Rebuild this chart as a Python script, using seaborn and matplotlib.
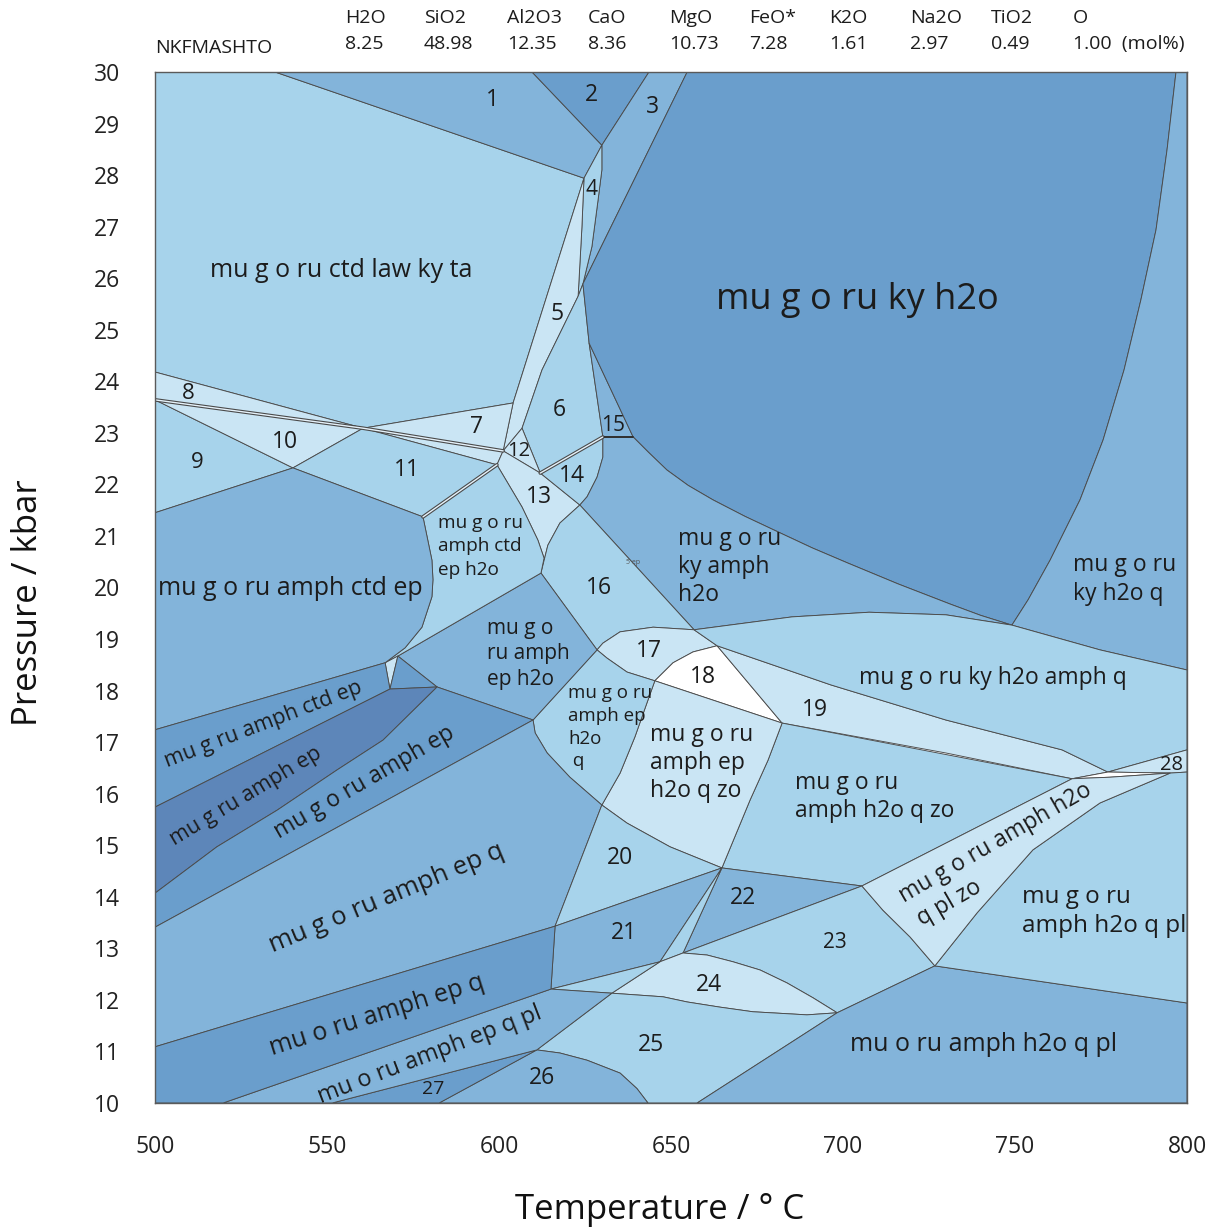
import matplotlib
matplotlib.use("Agg")
import matplotlib.pyplot as plt
import seaborn as sns
import numpy as np

# ---------------- bulk composition (mol%) ----------------
system_name = "NKFMASHTO"
oxides = ["H2O", "SiO2", "Al2O3", "CaO", "MgO", "FeO*", "K2O", "Na2O", "TiO2", "O"]
amounts = [8.25, 48.98, 12.35, 8.36, 10.73, 7.28, 1.61, 2.97, 0.49, 1.00]
oxide_T = [555.2, 578.2, 602.3, 625.9, 649.4, 672.7, 695.9, 719.5, 743.0, 766.9]

# ---------------- axes ----------------
t_lim = (500, 800)
p_lim = (10, 30)
t_major = [500, 550, 600, 650, 700, 750, 800]
p_major = list(range(10, 31))

# ---------------- nodes (T degC, P kbar) ----------------
t1, t2, t3, t4, t5 = (534.9, 30.0), (609.6, 30.0), (643.6, 30.0), (654.7, 30.0), (796.8, 30.0)
A, B, C, D = (624.7, 27.94), (629.9, 28.58), (624.4, 25.89), (623.0, 25.65)
b1, b2, b3, a1 = (629.9, 28.10), (628.8, 27.52), (627.0, 26.61), (624.1, 26.99)
L, k1, K, H, H2 = (604.1, 23.58), (612.5, 24.22), (606.7, 23.09), (601.2, 22.65), (599.4, 22.38)
J, I, M, E = (626.2, 24.74), (630.2, 22.92), (639.0, 22.92), (612.0, 22.22)
F, i1, i2, i3 = (623.5, 21.60), (630.2, 22.53), (628.5, 22.14), (625.6, 21.76)
S, n9, n11 = (560.5, 23.09), (540.1, 22.32), (577.9, 21.37)
G, Q, P1, W, U, V = (612.2, 20.28), (628.5, 18.79), (656.7, 19.18), (663.4, 18.87), (645.3, 18.19), (682.3, 17.37)
Y1, Y2, Y3, Y4 = (766.6, 16.29), (777.0, 16.42), (795.1, 16.40), (777.6, 16.32)
Z1, Z2, Z3, Z4 = (705.5, 14.21), (629.9, 15.78), (726.7, 12.66), (698.3, 11.75)
N22, N21a, N21b, N24a, N25a = (664.8, 14.56), (616.3, 13.43), (646.8, 12.74), (653.5, 12.91), (632.8, 12.13)
c1, c2, c3, c4, c5 = (566.9, 18.54), (570.6, 18.67), (568.3, 18.03), (582.0, 18.07), (609.9, 17.43)
r1, r2 = (615.1, 12.21), (611.0, 11.03)
K1 = (749.1, 19.27)
L0, L1, L2, L3, L4 = (500.0, 30.0), (500.0, 24.18), (500.0, 23.64), (500.0, 21.45), (500.0, 17.24)
L5, L6, L7, L8, L9 = (500.0, 15.74), (500.0, 14.07), (500.0, 13.41), (500.0, 11.09), (500.0, 10.0)
R0, R1, R2, R3, R4, R5 = (800.0, 30.0), (800.0, 18.40), (800.0, 16.85), (800.0, 16.42), (800.0, 11.94), (800.0, 10.0)
B1, B2, B3, B4, B5 = (519.8, 10.0), (551.5, 10.0), (582.6, 10.0), (643.3, 10.0), (657.6, 10.0)

# ---------------- curved boundaries ----------------
ctd_edge = [(580.5, 20.53), (580.8, 20.15), (580.5, 19.82), (577.6, 19.23), (572.7, 18.83)]
left13 = [(606.7, 21.56), (611.3, 20.92), (613.1, 20.57)]
low13 = [(617.7, 21.25), (614.2, 20.82)]
big_low = [(643.5, 22.62), (648.8, 22.28), (655.0, 21.98), (662.2, 21.70), (671.5, 21.38),
           (681.7, 21.06), (691.0, 20.77), (701.2, 20.48), (716.0, 20.07), (731.1, 19.68), (740.0, 19.46)]
big_right = [(753.8, 19.76), (760.2, 20.53), (768.9, 21.70), (775.6, 22.86), (781.7, 24.22),
             (786.6, 25.58), (791.0, 26.94), (794.2, 28.49)]
ky_top = [(685.2, 19.43), (707.6, 19.52), (729.9, 19.47)]
top17 = [(630.2, 18.92), (635.2, 19.14), (644.8, 19.23)]
top18 = [(656.4, 18.75), (650.6, 18.54)]
low17 = [(637.2, 18.36), (631.4, 18.63)]
top19 = [(696.5, 18.11), (729.9, 17.43), (763.7, 16.85)]
low19 = [(729.9, 16.79)]
zo_right = [(678.2, 16.65), (673.0, 15.88)]
zo_left = [(643.0, 17.76), (639.5, 17.10), (635.2, 16.40)]
zo_low = [(637.2, 15.43), (649.7, 14.97)]
epq_arc = [(610.5, 17.18), (614.0, 16.79), (620.6, 16.32)]
plzo_left = [(711.6, 13.74), (719.5, 13.22)]
plzo_right = [(739.0, 13.69), (755.2, 14.91), (774.7, 15.82)]
top24 = [(660.5, 12.87), (668.0, 12.74), (675.9, 12.58), (683.7, 12.33), (691.3, 12.04)]
low24 = [(689.5, 11.71), (673.8, 11.77), (664.2, 11.86), (654.7, 11.96), (647.7, 12.06)]
arc26 = [(617.7, 10.97), (625.6, 10.83), (635.2, 10.58), (640.1, 10.28)]
darkest_low = [(566.3, 17.04), (552.9, 16.46), (535.5, 15.68), (518.0, 14.97)]
kyq_low = [(774.7, 18.79)]

def rev(seq):
    return list(reversed(seq))

# ---------------- colours ----------------
WH = "#ffffff"
VL = "#cae5f4"
LT = "#a7d3eb"
MD = "#83b4da"
DK = "#6a9ecc"
DD = "#5d86b9"

fields = [
    ([L0, t1, A, L, S, L1], LT),
    ([t1, t2, B, A], MD),
    ([t2, t3, B], DK),
    ([t3, t4, C, b3, b2, b1, B], MD),
    ([A, B, b1, b2, b3, C, D, a1], LT),
    ([A, a1, D, k1, K, H, L], VL),
    ([D, C, J, I, E, K, k1], LT),
    ([S, L, H, H2], VL),
    ([L1, S, L2], VL),
    ([L2, n9, L3], LT),
    ([L2, S, n9], VL),
    ([S, H2, n11, n9], LT),
    ([K, E, H], VL),
    ([H, E, F] + low13 + [G] + rev(left13) + [H2], VL),
    ([E, I, i1, i2, i3, F], LT),
    ([J, I, M], MD),
    ([t4, t5] + rev(big_right) + [K1] + rev(big_low) + [M, J, C], DK),
    ([t5, R0, R1] + kyq_low + [K1] + big_right, MD),
    ([F, i3, i2, i1, I, M] + big_low + [K1] + rev(ky_top) + [P1], MD),
    ([F, P1] + rev(top17) + [Q, G] + rev(low13), LT),
    ([Q] + top17 + [P1, W] + top18 + [U] + low17, VL),
    ([W, V, U] + rev(top18), WH),
    ([W] + top19 + [Y2, Y1] + low19 + [V], VL),
    ([P1] + ky_top + [K1] + kyq_low + [R1, R2, Y2] + rev(top19) + [W], LT),
    ([Y2, R2, R3, Y3], VL),
    ([Y1, Y2, Y3, Y4], WH),
    ([V, Y1, Z1, N22] + rev(zo_right), LT),
    ([U, V] + zo_right + [N22] + rev(zo_low) + [Z2] + rev(zo_left), VL),
    ([c5, Q] + rev(low17) + [U] + zo_left + [Z2] + rev(epq_arc), LT),
    ([c2, G, Q, c5, c4], MD),
    ([H2] + left13 + [G, c2, c1] + rev(ctd_edge) + [n11], LT),
    ([c1, c2, c3], VL),
    ([c3, c2, c4], DK),
    ([L3, n9, n11] + ctd_edge + [c1, L4], MD),
    ([L4, c1, c3, L5], DK),
    ([L5, c3, c4] + darkest_low + [L6], DD),
    ([L6] + rev(darkest_low) + [c4, c5, L7], DK),
    ([L7, c5] + epq_arc + [Z2, N21a, L8], MD),
    ([Z2] + zo_low + [N22, N21a], LT),
    ([N21a, N22, N21b, r1], MD),
    ([N22, Z1, N24a], MD),
    ([N22, N24a, N21b], LT),
    ([Z1] + plzo_left + [Z3, Z4] + rev(top24) + [N24a], LT),
    ([N21b, N24a] + top24 + [Z4] + low24 + [N25a], VL),
    ([r1, N21b, N25a], LT),
    ([N25a] + rev(low24) + [Z4, B5, B4] + rev(arc26) + [r2], LT),
    ([r2] + arc26 + [B4, B3], MD),
    ([B2, r2, B3], DK),
    ([B1, r1, N25a, r2, B2], MD),
    ([L8, N21a, r1, B1, L9], DK),
    ([B5, Z4, Z3, R4, R5], MD),
    ([Z3] + plzo_right + [Y3, R3, R4], LT),
    ([Z1, Y1, Y4, Y3] + rev(plzo_right) + [Z3] + rev(plzo_left), VL),
]

# boundaries drawn as paired (double) lines
double_lines = [[L2, S, H], [n11, H2], [E, I]]

# ---------------- labels ----------------
num_text = [str(i) for i in range(1, 29)]
num_T = [598.0, 627.0, 644.5, 627.0, 616.9, 617.4, 593.6, 509.6, 512.2, 537.8,
         573.3, 605.8, 611.6, 621.2, 633.1, 629.1, 643.6, 659.3, 691.9, 635.2,
         636.3, 670.9, 697.7, 661.0, 644.2, 612.5, 580.8, 795.6]
num_P = [29.46, 29.55, 29.32, 27.73, 25.31, 23.44, 23.11, 23.77, 22.42, 22.82,
         22.28, 22.65, 21.76, 22.16, 23.15, 19.99, 18.77, 18.26, 17.62, 14.75,
         13.30, 13.98, 13.12, 12.29, 11.13, 10.49, 10.27, 16.56]
num_size = [16.5, 16.5, 16.5, 15, 16.5, 16.5, 16.5, 16, 16, 16.5,
            16.5, 14.5, 16.5, 16.5, 15, 16.5, 16.5, 16.5, 16.5, 16.5,
            16.5, 16.5, 15, 16.5, 16.5, 16.5, 14, 14.5]

centre_text = ["mu g o ru ctd law ky ta", "mu g o ru ky h2o", "mu g o ru amph ctd ep",
               "mu g o ru ky h2o amph q", "mu o ru amph h2o q pl",
               "mu g ru amph ctd ep", "mu g ru amph ep", "mu g o ru amph ep",
               "mu g o ru amph ep q", "mu o ru amph ep q", "mu o ru amph ep q pl",
               "mu g o ru amph h2o", "q pl zo"]
centre_T = [554.1, 704.1, 539.2, 743.6, 741.0, 531.4, 526.5, 561.0, 567.2, 564.5, 579.9, 744.2, 730.8]
centre_P = [26.14, 25.58, 19.99, 18.24, 11.14, 17.35, 15.94, 16.21, 13.98, 11.69, 10.93, 15.04, 13.88]
centre_size = [18, 26, 18, 16.5, 18, 15.5, 15.5, 16.5, 18.5, 18, 17, 16.5, 16.5]
centre_rot = [0, 0, 0, 0, 0, 21, 31, 30, 22.5, 17.5, 21, 30, 30]

block_text = ["mu g o ru\namph ctd\nep h2o", "mu g o ru\nky amph\nh2o", "mu g o ru\nky h2o q",
              "mu g o\nru amph\nep h2o", "mu g o ru\namph ep\nh2o\n q", "mu g o ru\namph ep\nh2o q zo",
              "mu g o ru\namph h2o q zo", "mu g o ru\namph h2o q pl"]
block_T = [582.3, 652.0, 766.9, 596.5, 620.1, 643.9, 686.0, 752.0]
block_P = [20.80, 20.40, 20.15, 18.71, 17.29, 16.60, 15.94, 13.71]
block_size = [13.7, 16.5, 16.5, 15, 13.5, 16.5, 16.5, 17.5]
block_spacing = [1.4, 1.22, 1.26, 1.3, 1.33, 1.22, 1.22, 1.3]

# ---------------- drawing ----------------
sns.set_theme(style="white")
plt.rcParams["font.family"] = ["Open Sans", "DejaVu Sans"]

fig = plt.figure(figsize=(12.21, 12.31), dpi=100)
ax = fig.add_axes([155 / 1221, 1 - 1103 / 1231, 1032 / 1221, 1031 / 1231])

edge = "#4a4a4a"
for poly, colour in fields:
    xs, ys = zip(*poly)
    ax.fill(xs, ys, facecolor=colour, edgecolor=edge, linewidth=0.65, joinstyle="round", zorder=1)

for line in double_lines:
    xs, ys = zip(*line)
    sns.lineplot(x=list(xs), y=list(ys), sort=False, estimator=None, ax=ax, color=edge, linewidth=2.6, zorder=2)
    sns.lineplot(x=list(xs), y=list(ys), sort=False, estimator=None, ax=ax, color="#e6f2fa", linewidth=1.0, zorder=2.1)
ax.plot([I[0], M[0]], [I[1], M[1]], color="#303030", linewidth=1.4, zorder=2)

ink = "#1c1c1c"
for s, x, y, fs in zip(num_text, num_T, num_P, num_size):
    ax.text(x, y, s, fontsize=fs, ha="center", va="center", color=ink, zorder=3)
for s, x, y, fs, rot in zip(centre_text, centre_T, centre_P, centre_size, centre_rot):
    ax.text(x, y, s, fontsize=fs, ha="center", va="center", rotation=rot,
            rotation_mode="anchor", color=ink, zorder=3)
for s, x, y, fs, ls in zip(block_text, block_T, block_P, block_size, block_spacing):
    ax.text(x, y, s, fontsize=fs, ha="left", va="center", linespacing=ls, color=ink, zorder=3)
ax.text(639.0, 20.49, "5 ep", fontsize=5, ha="center", va="center", color="#555555", zorder=3)

ax.set_xlim(*t_lim)
ax.set_ylim(*p_lim)
ax.set_xticks(t_major)
ax.set_xticks(np.arange(500, 801, 10), minor=True)
ax.set_yticks(p_major)
ax.set_yticks(np.arange(10, 30.001, 0.2), minor=True)
ax.tick_params(which="major", direction="in", length=16, width=1.0, color="#9a9a9a",
               labelsize=16.5, labelcolor="#222222", pad=23)
ax.tick_params(which="minor", direction="in", length=8, width=0.8, color="#9a9a9a")
ax.tick_params(axis="y", which="both", pad=25)
ax.set_axisbelow(False)
for sp in ax.spines.values():
    sp.set_color("#5a5a5a")
    sp.set_linewidth(1.0)
    sp.set_zorder(4)

ax.set_xlabel("Temperature / \u00b0 C", fontsize=25, color="#111111", va="center")
ax.xaxis.set_label_coords((660 - 155) / 1032, (1103 - 1210) / 1031)
ax.set_ylabel("Pressure / kbar", fontsize=25, color="#111111", va="center", ha="center")
ax.yaxis.set_label_coords((28 - 155) / 1032, (1103 - 603) / 1031)

# composition header
hdr = ax.get_xaxis_transform()
ax.text(500, (1103 - 48) / 1031, system_name, transform=hdr, fontsize=14, ha="left", va="center", color=ink)
for i, (ox, val, x) in enumerate(zip(oxides, amounts, oxide_T)):
    ax.text(x, (1103 - 18) / 1031, ox, transform=hdr, fontsize=14, ha="left", va="center", color=ink)
    txt = f"{val:.2f}" + ("  (mol%)" if i == len(oxides) - 1 else "")
    ax.text(x, (1103 - 44) / 1031, txt, transform=hdr, fontsize=14, ha="left", va="center", color=ink)

fig.savefig("out.png", dpi=100)
